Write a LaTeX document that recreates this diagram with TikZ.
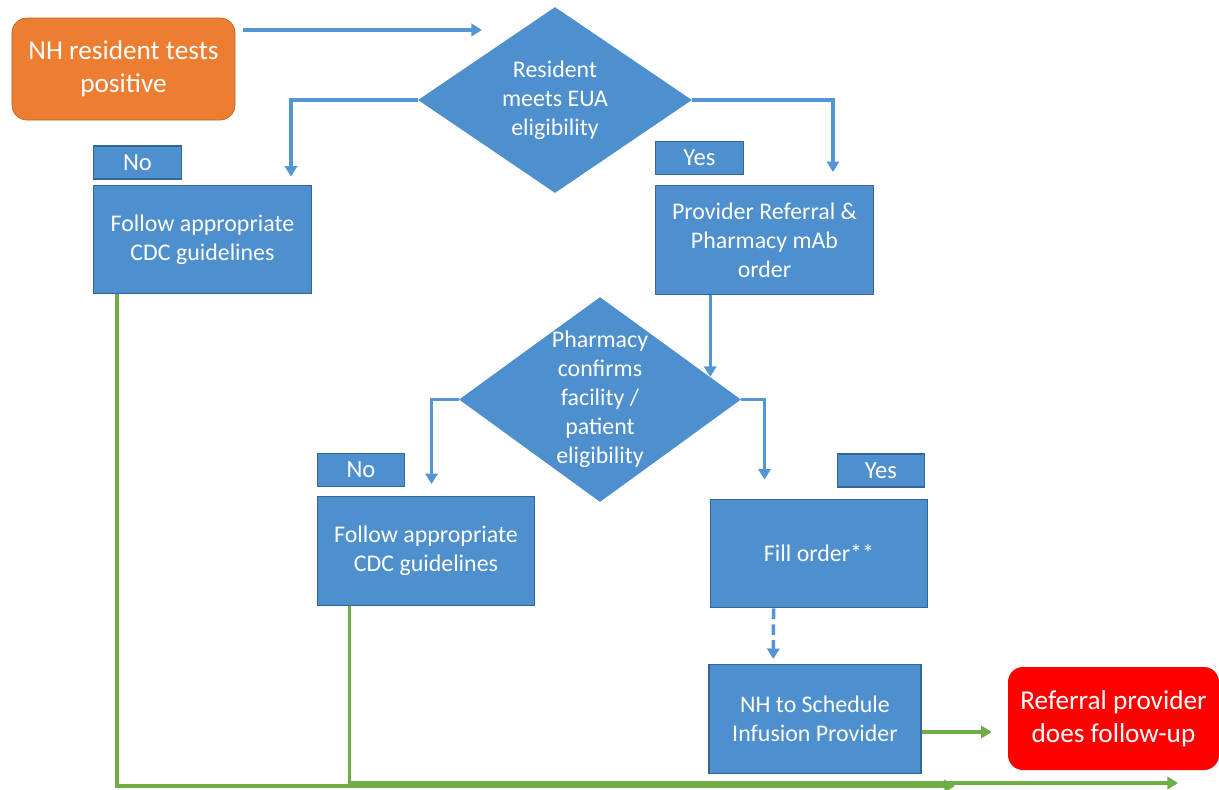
\documentclass[tikz,border=0pt]{standalone}
\usepackage{tikz}
\usepackage{xcolor}
\usepackage{fontspec}
\setmainfont{Carlito}
\usetikzlibrary {positioning,shapes.geometric,arrows.meta,calc}

\definecolor{boxblue}{RGB}{78,143,206}
\definecolor{edgeblue}{RGB}{52,102,156}
\definecolor{lineblue}{RGB}{84,150,212}
\definecolor{startorange}{RGB}{236,125,49}
\definecolor{flowgreen}{RGB}{112,173,71}

\begin{document}
\begin{tikzpicture}
		[box/.style={rectangle,draw=edgeblue,fill=boxblue,line width=0.8pt,text=white,align=center,
			font=\fontsize{13.6}{16.5}\selectfont,inner sep=0pt,minimum width=4.35cm,minimum height=2.17cm},
		tag/.style={rectangle,draw=edgeblue,fill=boxblue,line width=0.8pt,text=white,
			font=\fontsize{14}{16}\selectfont,inner sep=0pt,minimum width=1.75cm,minimum height=0.66cm},
		decision/.style={diamond,fill=boxblue,inner sep=0pt},
		dtext/.style={text=white,align=center,font=\fontsize{13.6}{16.5}\selectfont,inner sep=0pt},
		terminal/.style={rectangle,rounded corners=0.3cm,text=white,align=center,
			font=\fontsize{15.5}{18.7}\selectfont,inner sep=0pt},
		flow/.style={draw=lineblue,line width=2pt,->},
		done/.style={draw=flowgreen,line width=2pt,->},
		>={Triangle[width=7pt,length=6pt]}]
		\useasboundingbox (0,0) rectangle (24.38,-15.78);

		% start and first question
		\node [terminal,fill=startorange,draw=startorange!80!black,minimum width=4.46cm,minimum height=2.04cm] (start) at (2.47,-1.38) {NH resident tests\\positive};
		\node [decision,minimum width=5.48cm,minimum height=3.72cm] (d1) at (11.1,-2.0) {};
		\node [dtext] (d1t) at (d1) {Resident\\meets EUA\\eligibility};

		\node [box] (cdc1) at (4.05,-4.79) {Follow appropriate\\CDC guidelines};
		\node [tag] (no1) [above right=1mm and 0mm of cdc1.north west] {No};
		\node [box] (prov) at (15.29,-4.8) {Provider Referral \&\\Pharmacy mAb\\order};
		\node [tag] (yes1) [above right=2mm and 0mm of prov.north west] {Yes};

		% second question
		\node [decision,minimum width=5.64cm,minimum height=4.1cm] (d2) at (12.0,-7.99) {};
		\node [dtext] (d2t) at (d2) {Pharmacy\\confirms\\facility /\\patient\\eligibility};

		\node [box] (cdc2) at (8.52,-11.02) {Follow appropriate\\CDC guidelines};
		\node [tag] (no2) [above right=1.8mm and 0mm of cdc2.north west] {No};
		\node [box] (fill) at (16.38,-11.07) {Fill order**};
		\node [tag] (yes2) [above left=2.2mm and 0.6mm of fill.north east] {Yes};

		\node [box,minimum width=4.24cm] (sched) at (16.3,-14.38) {NH to Schedule\\Infusion Provider};
		\node [terminal,fill=red,minimum width=4.22cm,minimum height=2.06cm] (refer) at (22.27,-14.37) {Referral provider\\does follow-up};

		\coordinate (d1in) at (9.64,-0.6);
		\coordinate (d2in) at ($(d2.north)!0.78!(d2.east)$);
		\coordinate (sout) at ([yshift=-2.6mm]sched.east);
		\coordinate (end1) at (19.1,-15.72);
		\coordinate (end2) at (23.56,-15.66);

		\draw [flow] ([xshift=1.6mm]start.east |- d1in) -- (d1in);
		\draw [flow] (d1.west) -| ([xshift=-4.2mm,yshift=1.6mm]cdc1.north east);
		\draw [flow] (d1.east) -| ([xshift=-8.2mm,yshift=2.6mm]prov.north east);
		\draw [flow] (d2in |- prov.south) -- (d2in);
		\draw [flow] (d2.west) -| ([xshift=23mm,yshift=2.4mm]cdc2.north west);
		\draw [flow] (d2.east) -| ([xshift=11mm,yshift=3.8mm]fill.north west);
		\draw [flow,dash pattern=on 6pt off 3pt] ([xshift=12.8mm]fill.south west) -- ([xshift=13mm,yshift=1mm]sched.north west);

		\draw [done,shorten >=3.2mm] (sout) -- (sout -| refer.west);
		\draw [done] ([xshift=4.8mm]cdc1.south west) |- (end1);
		\draw [done] ([xshift=6.6mm]cdc2.south west) |- (end2);

	\end{tikzpicture}
\end{document}
